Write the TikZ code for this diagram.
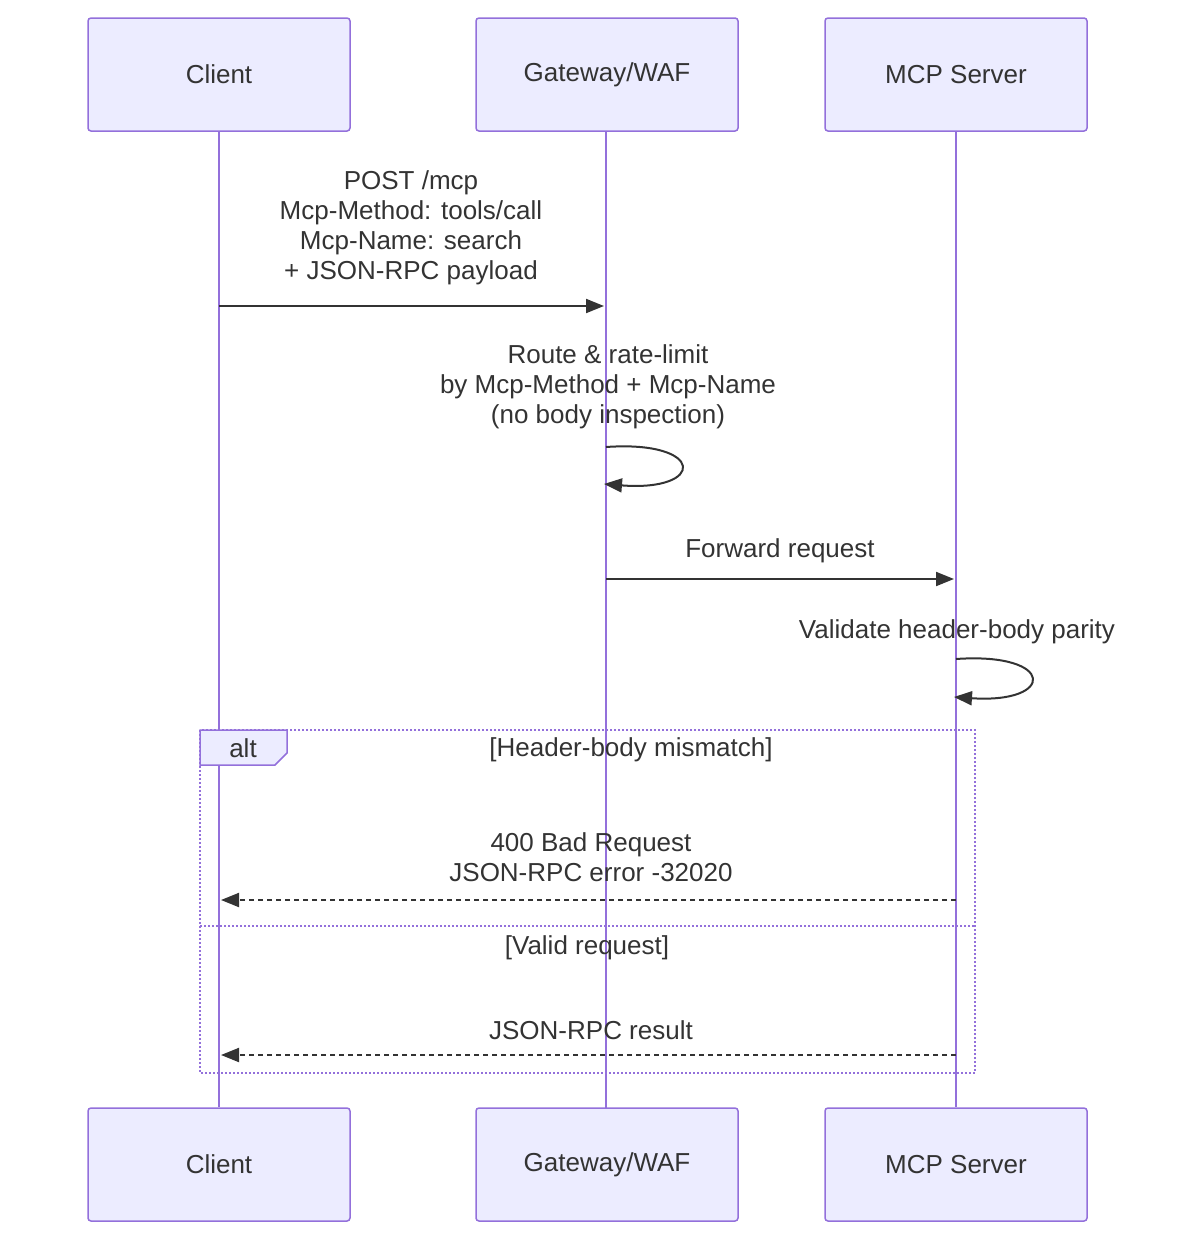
\documentclass[tikz,border=0pt]{standalone}
\usepackage{fontspec}
\setmainfont{Liberation Sans}
\usetikzlibrary{arrows.meta}
\definecolor{actfill}{HTML}{ECECFF}
\definecolor{actline}{HTML}{9370DB}
\definecolor{txt}{HTML}{333333}
\begin{document}
\begin{tikzpicture}[x=1pt,y=-1pt,
  actor/.style={draw=actline,fill=actfill,line width=1.5pt,rounded corners=3pt,minimum width=262pt,minimum height=113pt,font=\fontsize{26}{30}\selectfont,text=txt},
  life/.style={draw=actline,line width=2.5pt},
  lbl/.style={font=\fontsize{26}{30}\selectfont,text=txt,align=center,inner sep=0pt},
  msg/.style={draw=txt,line width=2pt,-{Triangle[length=18pt,width=14pt]}},
  rmsg/.style={msg,dash pattern=on 5pt off 4pt},
  frame/.style={draw=actline,line width=2pt,dash pattern=on 2pt off 2pt}]
\useasboundingbox (0,0) rectangle (1200,1240);
\node[actor] (c1) at (219,74.5) {Client};
\node[actor] (g1) at (607,74.5) {Gateway/WAF};
\node[actor] (m1) at (956,74.5) {MCP Server};
\node[actor] (c2) at (219,1164.5) {Client};
\node[actor] (g2) at (607,1164.5) {Gateway/WAF};
\node[actor] (m2) at (956,1164.5) {MCP Server};
\draw[life] (c1.south) -- (c2.north);
\draw[life] (606,131) -- (606,1108);
\draw[life] (m1.south) -- (m2.north);
% alt frame
\draw[frame] (200,730) rectangle (975,1073);
\draw[frame] (200,926) -- (975,926);
\draw[draw=actline,fill=actfill,line width=1.5pt] (200,730) -- (287,730) -- (287,753) -- (275,765) -- (200,765) -- cycle;
\node[lbl] (alt) at (243,748) {alt};
\node[lbl] (cond1) at (631,750) {[Header-body mismatch]};
\node[lbl] (cond2) at (587,948) {[Valid request]};
% message 1
\node[lbl] (t1) at (411,228) {POST /mcp\\Mcp-Method: tools/call\\Mcp-Name: search\\+ JSON-RPC payload};
\coordinate (a1s) at (219,306); \coordinate (a1e) at (604,306);
\draw[msg] (a1s) -- (a1e);
% self loop gateway
\node[lbl] (t2) at (608,387) {Route \& rate-limit\\by Mcp-Method + Mcp-Name\\(no body inspection)};
\coordinate (l1s) at (606,447); \coordinate (l1e) at (604,484);
\draw[msg] (l1s) .. controls (706,440) and (706,492) .. (l1e);
% forward
\node[lbl] (t3) at (780,551) {Forward request};
\coordinate (a3s) at (606,579); \coordinate (a3e) at (954,579);
\draw[msg] (a3s) -- (a3e);
% self loop server
\node[lbl] (t4) at (957,632) {Validate header-body parity};
\coordinate (l2s) at (956,659); \coordinate (l2e) at (954,697);
\draw[msg] (l2s) .. controls (1056,652) and (1056,704) .. (l2e);
% error
\node[lbl] (t5) at (591,857) {400 Bad Request\\JSON-RPC error -32020};
\coordinate (a5s) at (956,900); \coordinate (a5e) at (221,900);
\draw[rmsg] (a5s) -- (a5e);
% result
\node[lbl] (t6) at (591,1030) {JSON-RPC result};
\coordinate (a6s) at (956,1055); \coordinate (a6e) at (221,1055);
\draw[rmsg] (a6s) -- (a6e);
\end{tikzpicture}
\end{document}
